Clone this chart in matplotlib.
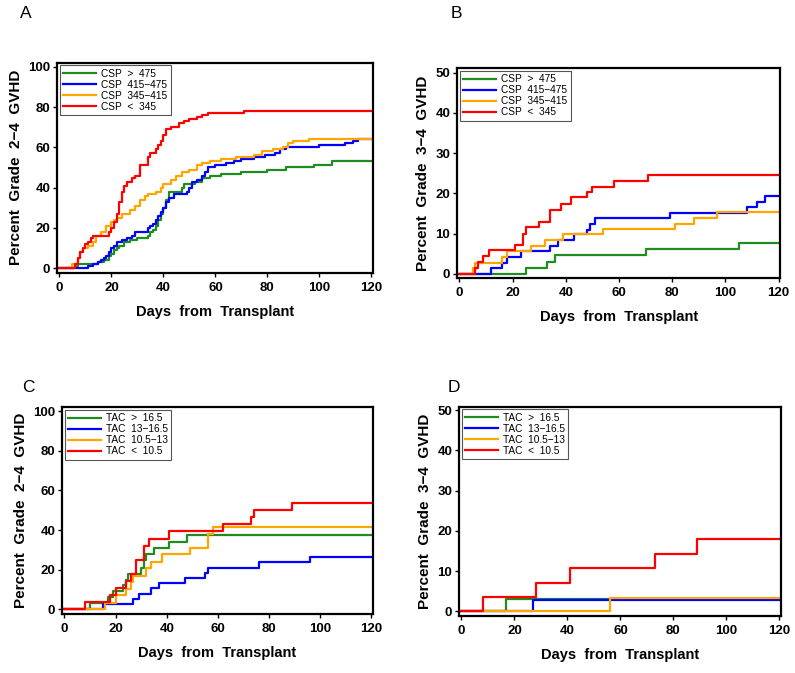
import matplotlib
matplotlib.use("Agg")
import matplotlib.pyplot as plt

plt.rcParams['font.family'] = ['Liberation Sans', 'DejaVu Sans']

W, H = 795, 673
COLORS = ['#1e8c1e', '#0000ff', '#ffa500', '#ff0000']

# ---- Panel A: CSP, grade 2-4 ----
A_labels = ['CSP  >  475', 'CSP  415\u2212475', 'CSP  345\u2212415', 'CSP  <  345']
A_green_t = [6, 7, 13, 15, 17, 19, 20, 21, 22, 23, 25, 27, 30, 34, 35, 36, 37, 38, 39, 40, 41, 42, 47, 48, 52, 55, 58, 62, 70, 80, 87, 98, 105]
A_green_v = [1, 2, 2, 3, 4, 6, 7, 9, 10, 11, 13, 14, 15, 16, 18, 19, 21, 24, 27, 30, 34, 38, 40, 42, 43, 45, 46, 47, 48, 49, 50, 51, 53]
A_blue_t = [11, 13, 15, 16, 17, 18, 19, 20, 21, 22, 24, 26, 28, 29, 34, 35, 36, 37, 38, 39, 40, 41, 42, 44, 49, 50, 51, 53, 55, 56, 57, 60, 64, 67, 70, 75, 79, 83, 85, 87, 100, 110, 113, 115]
A_blue_v = [1, 2, 3, 4, 5, 6, 8, 10, 11, 13, 14, 15, 16, 18, 20, 21, 22, 24, 26, 28, 30, 33, 35, 37, 38, 40, 43, 44, 46, 48, 50, 51, 52, 53, 54, 55, 56, 57, 59, 60, 61, 62, 63, 64]
A_orange_t = [5, 7, 8, 9, 11, 13, 14, 16, 18, 20, 21, 22, 24, 27, 29, 31, 33, 34, 37, 39, 40, 43, 45, 47, 50, 53, 55, 58, 62, 68, 75, 78, 82, 86, 88, 90, 96]
A_orange_v = [2, 5, 8, 10, 11, 13, 16, 18, 21, 23, 24, 25, 27, 29, 31, 34, 36, 37, 38, 40, 42, 44, 46, 48, 49, 51, 52, 53, 54, 55, 56, 58, 59, 60, 62, 63, 64]
A_red_t = [6, 7, 8, 9, 10, 11, 12, 13, 19, 20, 21, 22, 23, 24, 25, 26, 28, 29, 31, 34, 35, 37, 38, 39, 40, 41, 43, 46, 48, 50, 53, 55, 57, 71]
A_red_v = [2, 5, 8, 10, 12, 13, 15, 16, 18, 20, 23, 27, 33, 38, 41, 43, 45, 46, 51, 55, 57, 59, 61, 63, 66, 69, 70, 72, 73, 74, 75, 76, 77, 78]

# ---- Panel B: CSP, grade 3-4 ----
B_green_t = [25, 33, 36, 70, 105]
B_green_v = [1.5, 3.0, 4.6, 6.1, 7.6]
B_blue_t = [12, 16, 18, 23, 34, 37, 43, 48, 49, 51, 79, 108, 112, 115]
B_blue_v = [1.4, 2.8, 4.2, 5.6, 7.0, 8.4, 9.8, 11.0, 12.5, 13.9, 15.2, 16.5, 17.9, 19.3]
B_orange_t = [5, 6, 16, 18, 27, 32, 39, 54, 81, 88, 97]
B_orange_v = [1.4, 2.8, 4.2, 5.6, 7.0, 8.4, 9.8, 11.1, 12.5, 13.9, 15.3]
B_red_t = [6, 7, 9, 11, 21, 24, 25, 30, 34, 38, 42, 48, 50, 58, 71]
B_red_v = [1.5, 3.0, 4.5, 6.0, 7.3, 10.0, 11.7, 13.0, 16.0, 17.4, 19.0, 20.3, 21.7, 23.2, 24.6]

# ---- Panel C: TAC, grade 2-4 ----
C_labels = ['TAC  >  16.5', 'TAC  13\u221216.5', 'TAC  10.5\u221213', 'TAC  <  10.5']
C_green_t = [10, 17, 19, 23, 24, 25, 30, 31, 32, 35, 41, 48]
C_green_v = [3, 6, 9, 12, 15, 18, 21, 25, 28, 31, 34, 37.5]
C_blue_t = [15, 27, 29, 34, 37, 47, 55, 56, 76, 96]
C_blue_v = [2.6, 5.3, 7.9, 10.5, 13.2, 15.8, 18.4, 21.0, 23.7, 26.3]
C_orange_t = [16, 20, 24, 26, 27, 32, 34, 38, 49, 56, 58]
C_orange_v = [3, 7, 10, 14, 17, 21, 24, 28, 31, 38, 41.4]
C_red_t = [8, 18, 20, 24, 26, 28, 31, 33, 41, 62, 73, 74, 89]
C_red_v = [3.6, 7.0, 10.7, 14.3, 17.9, 25.0, 32.0, 35.7, 39.3, 42.9, 46.4, 50.0, 53.6]

# ---- Panel D: TAC, grade 3-4 ----
D_green_t = [17]
D_green_v = [3.0]
D_blue_t = [27]
D_blue_v = [2.8]
D_orange_t = [56]
D_orange_v = [3.4]
D_red_t = [8, 28, 41, 73, 89]
D_red_v = [3.6, 7.1, 10.7, 14.3, 17.9]

XMAX = 120


def rect(l, r, t, b):
    return [l / W, 1 - b / H, (r - l) / W, (b - t) / H]


fig = plt.figure(figsize=(W / 100, H / 100), dpi=100)


def panel(r, series, labels, ymax, ylabel, letter, letter_xy, ylim):
    ax = fig.add_axes(rect(*r))
    for (t, v), c, lab in zip(series, COLORS, labels):
        xs = [0] + list(t) + [XMAX]
        ys = [0] + list(v) + [v[-1]]
        ax.step(xs, ys, where='post', color=c, lw=1.6, label=lab)
    ax.set_xlim(-0.8, 120.5)
    ax.set_ylim(*ylim)
    ax.set_xticks(range(0, 121, 20))
    ax.set_yticks(range(0, ymax + 1, ymax // 5))
    for s in ax.spines.values():
        s.set_linewidth(1.6)
    ax.tick_params(direction='out', length=3, width=1, labelsize=9.5, pad=2)
    ax.tick_params(axis='x', pad=3.5)
    for lbl in ax.get_xticklabels() + ax.get_yticklabels():
        lbl.set_fontweight('bold')
    ax.set_xlabel('Days  from  Transplant', fontsize=10.5, fontweight='bold', labelpad=8)
    ax.set_ylabel(ylabel, fontsize=11, fontweight='bold', labelpad=4)
    leg = ax.legend(loc='upper left', fontsize=7.3, frameon=True, fancybox=False,
                    edgecolor='#555555', framealpha=1, handlelength=3.2,
                    handletextpad=0.5, labelspacing=0.1, borderpad=0.35,
                    borderaxespad=0.25)
    leg.get_frame().set_linewidth(0.8)
    fig.text(letter_xy[0] / W, 1 - letter_xy[1] / H, letter, fontsize=12.5,
             ha='left', va='top')
    return ax


panel((57.3, 372.7, 62.7, 272.7),
      [(A_green_t, A_green_v), (A_blue_t, A_blue_v), (A_orange_t, A_orange_v), (A_red_t, A_red_v)],
      A_labels, 100, 'Percent  Grade  2\u22124  GVHD', 'A', (20, 6), (-2.2, 102))
panel((457.3, 780, 68.3, 278.3),
      [(B_green_t, B_green_v), (B_blue_t, B_blue_v), (B_orange_t, B_orange_v), (B_red_t, B_red_v)],
      A_labels, 50, 'Percent  Grade  3\u22124  GVHD', 'B', (451, 6), (-1.1, 51.1))
panel((62.3, 372.7, 407.3, 614),
      [(C_green_t, C_green_v), (C_blue_t, C_blue_v), (C_orange_t, C_orange_v), (C_red_t, C_red_v)],
      C_labels, 100, 'Percent  Grade  2\u22124  GVHD', 'C', (22, 380), (-2.4, 102))
panel((459.3, 780.7, 406.7, 616),
      [(D_green_t, D_green_v), (D_blue_t, D_blue_v), (D_orange_t, D_orange_v), (D_red_t, D_red_v)],
      C_labels, 50, 'Percent  Grade  3\u22124  GVHD', 'D', (448, 380), (-1.2, 50.9))

fig.savefig('out.png', dpi=100)
